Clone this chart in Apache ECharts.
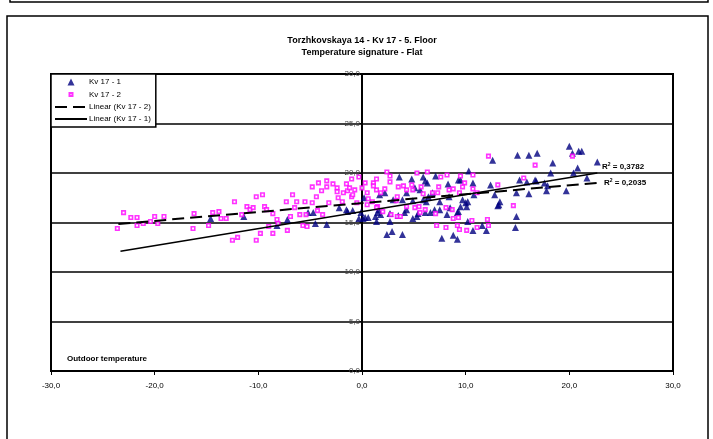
<!DOCTYPE html>
<html>
<head>
<meta charset="utf-8">
<script src="https://cdn.jsdelivr.net/npm/echarts@6/dist/echarts.min.js"></script>
<style>
  html, body { margin: 0; padding: 0; background: #fff; }
  #chart { width: 713px; height: 439px; }
</style>
</head>
<body>
<div id="chart"></div>
<script>
// Kv 17 - 1 : [outdoor temp, indoor temp]
const kv1 = [
  [-14.6, 15.4], [-11.4, 15.6], [-8.2, 14.7], [-7.2, 15.3], [-5.2, 16.0], [-4.7, 16.0],
  [-4.5, 14.9], [-3.4, 14.8], [-2.2, 16.5], [-1.4, 16.1], [-0.9, 16.2], [-0.3, 15.4],
  [0.1, 15.4], [0.3, 15.5], [1.4, 15.1], [0.2, 17.5], [1.7, 17.8], [2.2, 18.0],
  [1.6, 16.3], [1.8, 15.8], [1.3, 15.6], [0.6, 15.5], [2.7, 15.9], [2.7, 15.1],
  [3.5, 15.7], [3.9, 17.3], [4.1, 16.0], [4.3, 18.0], [4.9, 17.2], [4.9, 15.4],
  [5.4, 15.9], [5.9, 17.3], [6.1, 16.0], [6.4, 17.6], [6.6, 16.0], [6.8, 18.0],
  [7.5, 17.1], [7.5, 16.3], [8.2, 15.8], [8.4, 17.6], [9.2, 16.0], [9.5, 16.6],
  [10.0, 17.0], [10.2, 17.1], [10.8, 17.8], [3.6, 19.6], [4.8, 19.4], [5.9, 19.6],
  [6.1, 19.2], [7.1, 19.7], [8.3, 18.9], [9.5, 19.3], [10.3, 20.2], [10.7, 19.0],
  [12.4, 18.8], [12.6, 21.3], [12.8, 17.8], [13.1, 16.7], [13.3, 17.1], [14.9, 18.0],
  [15.2, 19.3], [15.0, 21.8], [16.1, 21.8], [16.9, 22.0], [15.9, 19.1], [16.1, 17.9],
  [16.8, 19.2], [17.6, 19.0], [17.9, 18.7], [17.8, 18.2], [18.2, 20.0], [18.4, 21.0],
  [19.7, 18.2], [20.0, 22.7], [20.3, 22.0], [20.9, 22.2], [21.2, 22.2], [20.4, 20.0],
  [20.8, 20.5], [21.7, 19.5], [22.7, 21.1], [14.8, 14.5], [14.9, 15.6], [11.6, 14.7],
  [12.0, 14.2], [2.4, 13.8], [2.9, 14.1], [3.9, 13.8], [7.7, 13.4], [8.8, 13.7],
  [9.2, 13.3], [10.2, 15.1], [10.7, 14.2], [-1.5, 16.3], [-0.1, 16.0], [1.5, 16.0],
  [3.0, 17.3], [4.3, 16.3], [5.3, 15.6], [6.2, 17.1], [7.0, 16.3], [8.5, 16.5],
  [9.7, 17.3], [10.1, 16.6], [9.3, 16.1], [5.1, 18.5], [6.3, 19.0], [9.3, 19.3],
  [5.6, 18.3], [16.7, 19.3], [13.2, 16.8]
];

// Kv 17 - 2 : [outdoor temp, indoor temp]
const kv2 = [
  [-23.6, 14.4], [-23.0, 16.0], [-22.3, 15.5], [-21.7, 15.5], [-21.7, 14.7], [-21.1, 14.9],
  [-20.4, 15.1], [-20.0, 15.6], [-19.7, 14.9], [-19.1, 15.6], [-16.3, 14.4], [-16.2, 15.9],
  [-14.8, 14.7], [-14.4, 16.0], [-13.8, 16.1], [-13.6, 15.4], [-13.1, 15.4], [-12.5, 13.2],
  [-12.3, 17.1], [-12.0, 13.5], [-11.6, 15.8], [-11.1, 16.6], [-10.8, 16.3], [-10.5, 16.5],
  [-10.2, 17.6], [-10.2, 13.2], [-9.8, 13.9], [-9.6, 17.8], [-9.4, 16.6], [-9.2, 16.3],
  [-9.0, 14.6], [-8.6, 15.9], [-8.6, 13.9], [-8.2, 15.3], [-8.1, 14.9], [-7.3, 17.1],
  [-7.2, 14.2], [-6.9, 15.6], [-6.7, 17.8], [-6.5, 16.5], [-6.3, 17.1], [-6.0, 15.8],
  [-5.7, 14.7], [-5.5, 17.1], [-5.4, 15.8], [-5.3, 14.6], [-4.8, 18.6], [-4.8, 17.0],
  [-4.4, 17.6], [-4.3, 16.2], [-4.2, 19.0], [-3.9, 18.2], [-3.8, 15.8], [-3.4, 19.2],
  [-3.4, 18.6], [-3.2, 17.0], [-2.8, 18.9], [-2.4, 18.5], [-2.4, 18.1], [-2.3, 17.5],
  [-1.9, 17.1], [-1.8, 18.0], [-1.5, 18.9], [-1.4, 18.2], [-1.2, 18.5], [-1.0, 19.4],
  [-1.0, 17.6], [-0.9, 17.8], [-0.7, 18.3], [-0.5, 17.0], [-0.3, 19.6], [0.0, 18.5],
  [0.3, 19.0], [0.5, 18.0], [0.6, 17.4], [1.0, 17.1], [1.1, 19.0], [1.4, 18.3],
  [1.5, 16.6], [12.2, 21.7], [16.7, 20.8], [2.4, 20.1], [2.7, 19.7], [1.1, 18.7],
  [1.4, 19.4], [1.8, 18.0], [2.2, 18.4], [2.7, 19.1], [3.4, 17.6], [3.3, 17.2],
  [3.5, 18.6], [4.0, 18.7], [4.3, 18.3], [4.8, 18.8], [4.9, 18.3], [5.3, 20.0],
  [5.5, 16.6], [5.7, 18.6], [6.3, 20.1], [5.9, 17.9], [6.8, 18.0], [7.4, 18.6],
  [7.3, 18.0], [7.6, 19.6], [8.2, 19.8], [8.4, 18.3], [8.8, 18.4], [9.4, 18.0],
  [9.5, 19.7], [9.9, 19.0], [9.7, 18.6], [10.7, 19.8], [10.7, 18.4], [11.1, 18.0],
  [13.1, 18.8], [15.6, 19.5], [14.6, 16.7], [0.5, 16.8], [1.4, 16.5], [2.0, 16.1],
  [2.8, 15.8], [3.4, 15.6], [3.7, 15.6], [4.3, 16.6], [5.1, 16.5], [5.6, 16.0],
  [6.1, 16.3], [7.1, 15.9], [8.1, 16.5], [8.7, 16.3], [8.8, 15.4], [9.3, 15.5],
  [7.2, 14.7], [8.1, 14.5], [9.2, 14.7], [9.4, 14.3], [10.1, 14.2], [10.6, 15.2],
  [11.1, 14.5], [12.2, 14.7], [20.3, 21.7], [12.1, 15.3]
];

// trend lines, end points
const trendKv2 = [[-23.5, 14.85], [22.7, 19.0]];
const trendKv1 = [[-23.3, 12.1], [22.7, 20.0]];

const xTicks = [-30, -20, -10, 0, 10, 20, 30];
const yTicks = [0, 5, 10, 15, 20, 25, 30];
const r2Labels = ['0,3782', '0,2035'];

const FONT = '"Liberation Sans", Arial, sans-serif';
const comma = v => v.toFixed(1).replace('.', ',');

const GRID_LEFT = 51, GRID_RIGHT = 40;
let chart = echarts.init(document.getElementById('chart'), null, { renderer: 'canvas' });

// y axis sits at x = 0, so shift it right by half the plot width
const plotW = 713 - GRID_LEFT - GRID_RIGHT;
const yOffset = -plotW * (0 - xTicks[0]) / (xTicks[xTicks.length - 1] - xTicks[0]);

const hideDot = { opacity: 0 };

let option = {
    backgroundColor: '#fff',
    animation: false,
    textStyle: { fontFamily: FONT },
    grid: {
        left: GRID_LEFT, right: GRID_RIGHT, top: 74, bottom: 68,
        show: true,
        borderColor: '#000',
        borderWidth: 2,
        backgroundColor: 'transparent'
    },
    legend: {
        orient: 'vertical',
        left: 51, top: 74,
        padding: [4, 5, 4, 3],
        itemGap: 4,
        itemWidth: 32,
        itemHeight: 7,
        backgroundColor: '#fff',
        borderColor: '#000',
        borderWidth: 1.5,
        textStyle: { fontSize: 8, color: '#000', fontFamily: FONT, padding: [0, 0, 0, -3] },
        data: [
            { name: 'Kv 17 - 1', icon: 'path://M5,0L10,10L0,10Z' },
            { name: 'Kv 17 - 2', icon: 'path://M0,0M14,14M4,4H10V10H4Z' },
            { name: 'Linear (Kv 17 - 2)', itemStyle: hideDot },
            { name: 'Linear (Kv 17 - 1)', itemStyle: hideDot }
        ]
    },
    xAxis: {
        type: 'value',
        min: xTicks[0], max: xTicks[xTicks.length - 1], interval: 10,
        axisLine: { onZero: false, lineStyle: { color: '#000', width: 2 } },
        axisTick: { show: true, length: 4, lineStyle: { color: '#000', width: 1 } },
        axisLabel: { formatter: comma, fontSize: 8, color: '#000', margin: 11 },
        splitLine: { show: false }
    },
    yAxis: {
        type: 'value',
        position: 'left',
        offset: yOffset,
        min: yTicks[0], max: yTicks[yTicks.length - 1], interval: 5,
        axisLine: { show: true, onZero: false, lineStyle: { color: '#000', width: 2 } },
        axisTick: { show: true, length: 3, lineStyle: { color: '#000', width: 1 } },
        axisLabel: { formatter: comma, fontSize: 8, color: '#444', margin: 2 },
        splitLine: { show: true, lineStyle: { color: '#000', width: 1.5 } }
    },
    graphic: [
        { type: 'rect', shape: { x: 10, y: -20, width: 698, height: 22 },
          style: { fill: 'none', stroke: '#000', lineWidth: 1.5 }, silent: true },
        { type: 'rect', shape: { x: 7, y: 16, width: 701, height: 440 },
          style: { fill: 'none', stroke: '#000', lineWidth: 1.5 }, silent: true, z: -1 },
        { type: 'text', x: 362, y: 35,
          style: { text: 'Torzhkovskaya 14 - Kv 17 - 5. Floor\nTemperature signature - Flat',
                   font: 'bold 9px ' + FONT, fill: '#000', align: 'center', lineHeight: 12 } },
        { type: 'text', x: 67, y: 355,
          style: { text: 'Outdoor temperature', font: 'bold 8px ' + FONT, fill: '#000' }, z: 10 },
        { type: 'text', x: 602, y: 162, z: 10,
          style: { text: 'R{s|2} = ' + r2Labels[0], font: 'bold 8px ' + FONT, fill: '#000',
                   rich: { s: { fontSize: 5, fontWeight: 'bold', verticalAlign: 'top', padding: [0, 0, 5, 0] } } } },
        { type: 'text', x: 604, y: 178, z: 10,
          style: { text: 'R{s|2} = ' + r2Labels[1], font: 'bold 8px ' + FONT, fill: '#000',
                   rich: { s: { fontSize: 5, fontWeight: 'bold', verticalAlign: 'top', padding: [0, 0, 5, 0] } } } }
    ],
    series: [
        {
            name: 'Kv 17 - 1',
            type: 'scatter',
            symbol: 'triangle',
            symbolSize: 7,
            itemStyle: { color: '#000080' },
            data: kv1,
            z: 2
        },
        {
            name: 'Kv 17 - 2',
            type: 'scatter',
            symbol: 'rect',
            symbolSize: 3.5,
            itemStyle: { color: '#fff', borderColor: '#ff00ff', borderWidth: 1.6 },
            data: kv2,
            z: 3
        },
        {
            name: 'Linear (Kv 17 - 2)',
            type: 'line',
            symbol: 'none',
            itemStyle: { color: '#000' },
            lineStyle: { color: '#000', width: 2, type: [12, 6] },
            data: trendKv2,
            z: 4
        },
        {
            name: 'Linear (Kv 17 - 1)',
            type: 'line',
            symbol: 'none',
            itemStyle: { color: '#000' },
            lineStyle: { color: '#000', width: 1.5 },
            data: trendKv1,
            z: 4
        }
    ]
};

chart.setOption(option);
</script>
</body>
</html>
